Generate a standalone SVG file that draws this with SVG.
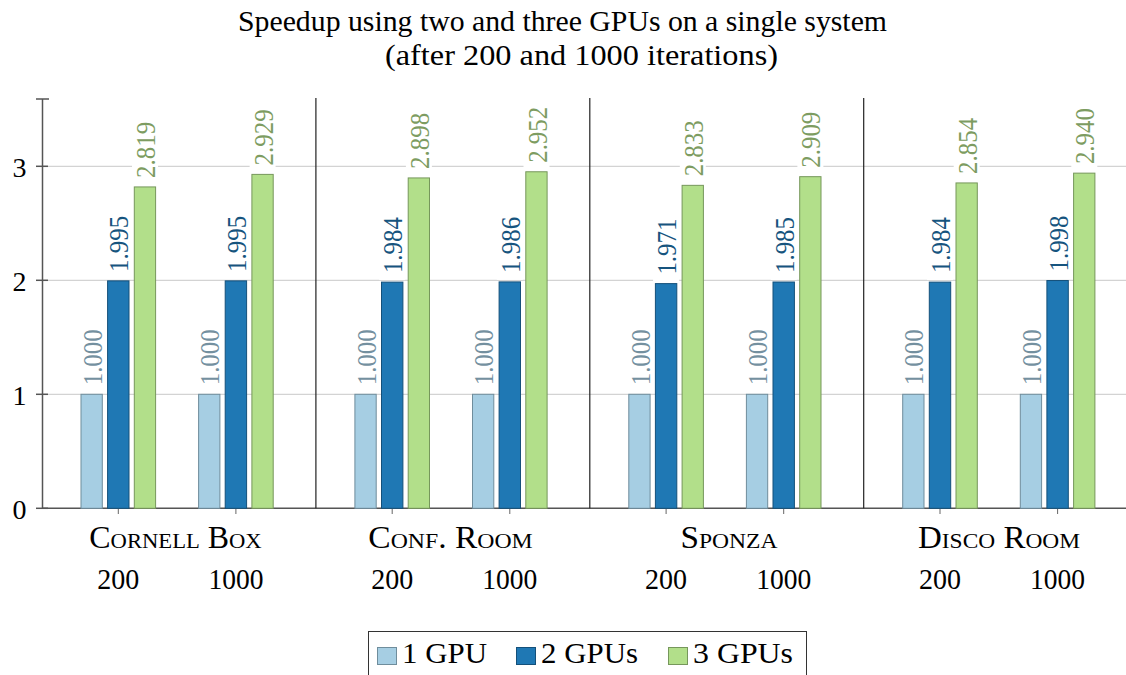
<svg xmlns="http://www.w3.org/2000/svg" width="1126" height="675" viewBox="0 0 1126 675">
<style>
text{font-family:"Liberation Serif","Times New Roman",serif;fill:#000}
.title{font-size:29px}
.tick{font-size:28px}
.cat{font-size:31px;font-variant:small-caps}
.num{font-size:30px}
.leg{font-size:30px}
.val{font-size:28px}
.grid{stroke:#c8c8c8;stroke-width:1}
.axis{stroke:#555;stroke-width:1.5;fill:none}
.sep{stroke:#222;stroke-width:1.2}
.g1{fill:#a6cee3;stroke:#6f8d9c;stroke-width:1}
.g2{fill:#1f78b4;stroke:#14507a;stroke-width:1}
.g3{fill:#b2df8a;stroke:#76975b;stroke-width:1}
.v1{fill:#74909f}
.v2{fill:#16547e}
.v3{fill:#7d9c61}
.bg{fill:#fff}
</style>
<rect width="1126" height="675" fill="#fff"/>
<g id="title">
<text class="title" x="238" y="31" textLength="649" lengthAdjust="spacingAndGlyphs">Speedup using two and three GPUs on a single system</text>
<text class="title" x="385" y="65" textLength="393" lengthAdjust="spacingAndGlyphs">(after 200 and 1000 iterations)</text>
</g>
<g id="grid">
<line class="grid" x1="42" y1="394.3" x2="1126" y2="394.3"/>
<line class="grid" x1="42" y1="280.3" x2="1126" y2="280.3"/>
<line class="grid" x1="42" y1="166.3" x2="1126" y2="166.3"/>
</g>
<g id="axes">
<line class="axis" x1="42.5" y1="99" x2="42.5" y2="508.3"/>
<line class="axis" x1="42" y1="508.3" x2="1126" y2="508.3"/>
<line class="axis" x1="36" y1="99" x2="49" y2="99"/>
<line class="axis" x1="36" y1="508.3" x2="48" y2="508.3"/>
<line class="axis" x1="36" y1="394.3" x2="48" y2="394.3"/>
<line class="axis" x1="36" y1="280.3" x2="48" y2="280.3"/>
<line class="axis" x1="36" y1="166.3" x2="48" y2="166.3"/>
<line class="sep" x1="315.9" y1="98" x2="315.9" y2="508.3"/>
<line class="sep" x1="589.8" y1="98" x2="589.8" y2="508.3"/>
<line class="sep" x1="863.7" y1="98" x2="863.7" y2="508.3"/>
<g stroke="#666" stroke-width="1">
<line x1="118.3" y1="508" x2="118.3" y2="514"/>
<line x1="235.9" y1="508" x2="235.9" y2="514"/>
<line x1="392.2" y1="508" x2="392.2" y2="514"/>
<line x1="509.8" y1="508" x2="509.8" y2="514"/>
<line x1="666.1" y1="508" x2="666.1" y2="514"/>
<line x1="783.7" y1="508" x2="783.7" y2="514"/>
<line x1="940" y1="508" x2="940" y2="514"/>
<line x1="1057.6" y1="508" x2="1057.6" y2="514"/>
</g>
<text class="tick" x="26.5" y="519" text-anchor="end">0</text>
<text class="tick" x="26.5" y="405" text-anchor="end">1</text>
<text class="tick" x="26.5" y="291" text-anchor="end">2</text>
<text class="tick" x="26.5" y="177" text-anchor="end">3</text>
</g>
<g id="bars">
<rect class="g1" x="81" y="394.3" width="21.3" height="114"/>
<rect class="g2" x="107.6" y="280.87" width="21.4" height="227.43"/>
<rect class="g3" x="134.3" y="186.93" width="21.3" height="321.37"/>
<rect class="g1" x="198.6" y="394.3" width="21.3" height="114"/>
<rect class="g2" x="225.2" y="280.87" width="21.4" height="227.43"/>
<rect class="g3" x="251.9" y="174.39" width="21.3" height="333.91"/>
<rect class="g1" x="354.9" y="394.3" width="21.3" height="114"/>
<rect class="g2" x="381.5" y="282.12" width="21.4" height="226.18"/>
<rect class="g3" x="408.2" y="177.93" width="21.3" height="330.37"/>
<rect class="g1" x="472.5" y="394.3" width="21.3" height="114"/>
<rect class="g2" x="499.1" y="281.9" width="21.4" height="226.4"/>
<rect class="g3" x="525.8" y="171.77" width="21.3" height="336.53"/>
<rect class="g1" x="628.8" y="394.3" width="21.3" height="114"/>
<rect class="g2" x="655.4" y="283.61" width="21.4" height="224.69"/>
<rect class="g3" x="682.1" y="185.34" width="21.3" height="322.96"/>
<rect class="g1" x="746.4" y="394.3" width="21.3" height="114"/>
<rect class="g2" x="773" y="282.01" width="21.4" height="226.29"/>
<rect class="g3" x="799.7" y="176.67" width="21.3" height="331.63"/>
<rect class="g1" x="902.7" y="394.3" width="21.3" height="114"/>
<rect class="g2" x="929.3" y="282.12" width="21.4" height="226.18"/>
<rect class="g3" x="956" y="182.94" width="21.3" height="325.36"/>
<rect class="g1" x="1020.3" y="394.3" width="21.3" height="114"/>
<rect class="g2" x="1046.9" y="280.53" width="21.4" height="227.77"/>
<rect class="g3" x="1073.6" y="173.14" width="21.3" height="335.16"/>
</g>
<g id="values">
<rect class="bg" x="78.6" y="325.3" width="26" height="67"/>
<text class="val v1" transform="translate(101.7 385.3) rotate(-90)" textLength="56" lengthAdjust="spacingAndGlyphs">1.000</text>
<rect class="bg" x="105.3" y="211.9" width="26" height="67"/>
<text class="val v2" transform="translate(128.3 271.9) rotate(-90)" textLength="56" lengthAdjust="spacingAndGlyphs">1.995</text>
<rect class="bg" x="132" y="117.9" width="26" height="67"/>
<text class="val v3" transform="translate(155 177.9) rotate(-90)" textLength="56" lengthAdjust="spacingAndGlyphs">2.819</text>
<rect class="bg" x="196.2" y="325.3" width="26" height="67"/>
<text class="val v1" transform="translate(219.3 385.3) rotate(-90)" textLength="56" lengthAdjust="spacingAndGlyphs">1.000</text>
<rect class="bg" x="222.9" y="211.9" width="26" height="67"/>
<text class="val v2" transform="translate(245.9 271.9) rotate(-90)" textLength="56" lengthAdjust="spacingAndGlyphs">1.995</text>
<rect class="bg" x="249.6" y="105.4" width="26" height="67"/>
<text class="val v3" transform="translate(272.6 165.4) rotate(-90)" textLength="56" lengthAdjust="spacingAndGlyphs">2.929</text>
<rect class="bg" x="352.5" y="325.3" width="26" height="67"/>
<text class="val v1" transform="translate(375.6 385.3) rotate(-90)" textLength="56" lengthAdjust="spacingAndGlyphs">1.000</text>
<rect class="bg" x="379.2" y="213.1" width="26" height="67"/>
<text class="val v2" transform="translate(402.2 273.1) rotate(-90)" textLength="56" lengthAdjust="spacingAndGlyphs">1.984</text>
<rect class="bg" x="405.9" y="108.9" width="26" height="67"/>
<text class="val v3" transform="translate(428.9 168.9) rotate(-90)" textLength="56" lengthAdjust="spacingAndGlyphs">2.898</text>
<rect class="bg" x="470.1" y="325.3" width="26" height="67"/>
<text class="val v1" transform="translate(493.2 385.3) rotate(-90)" textLength="56" lengthAdjust="spacingAndGlyphs">1.000</text>
<rect class="bg" x="496.8" y="212.9" width="26" height="67"/>
<text class="val v2" transform="translate(519.8 272.9) rotate(-90)" textLength="56" lengthAdjust="spacingAndGlyphs">1.986</text>
<rect class="bg" x="523.5" y="102.8" width="26" height="67"/>
<text class="val v3" transform="translate(546.5 162.8) rotate(-90)" textLength="56" lengthAdjust="spacingAndGlyphs">2.952</text>
<rect class="bg" x="626.4" y="325.3" width="26" height="67"/>
<text class="val v1" transform="translate(649.5 385.3) rotate(-90)" textLength="56" lengthAdjust="spacingAndGlyphs">1.000</text>
<rect class="bg" x="653.1" y="214.6" width="26" height="67"/>
<text class="val v2" transform="translate(676.1 274.6) rotate(-90)" textLength="56" lengthAdjust="spacingAndGlyphs">1.971</text>
<rect class="bg" x="679.8" y="116.3" width="26" height="67"/>
<text class="val v3" transform="translate(702.8 176.3) rotate(-90)" textLength="56" lengthAdjust="spacingAndGlyphs">2.833</text>
<rect class="bg" x="744" y="325.3" width="26" height="67"/>
<text class="val v1" transform="translate(767.1 385.3) rotate(-90)" textLength="56" lengthAdjust="spacingAndGlyphs">1.000</text>
<rect class="bg" x="770.7" y="213" width="26" height="67"/>
<text class="val v2" transform="translate(793.7 273) rotate(-90)" textLength="56" lengthAdjust="spacingAndGlyphs">1.985</text>
<rect class="bg" x="797.4" y="107.7" width="26" height="67"/>
<text class="val v3" transform="translate(820.4 167.7) rotate(-90)" textLength="56" lengthAdjust="spacingAndGlyphs">2.909</text>
<rect class="bg" x="900.3" y="325.3" width="26" height="67"/>
<text class="val v1" transform="translate(923.4 385.3) rotate(-90)" textLength="56" lengthAdjust="spacingAndGlyphs">1.000</text>
<rect class="bg" x="927" y="213.1" width="26" height="67"/>
<text class="val v2" transform="translate(950 273.1) rotate(-90)" textLength="56" lengthAdjust="spacingAndGlyphs">1.984</text>
<rect class="bg" x="953.7" y="113.9" width="26" height="67"/>
<text class="val v3" transform="translate(976.7 173.9) rotate(-90)" textLength="56" lengthAdjust="spacingAndGlyphs">2.854</text>
<rect class="bg" x="1017.9" y="325.3" width="26" height="67"/>
<text class="val v1" transform="translate(1041 385.3) rotate(-90)" textLength="56" lengthAdjust="spacingAndGlyphs">1.000</text>
<rect class="bg" x="1044.6" y="211.5" width="26" height="67"/>
<text class="val v2" transform="translate(1067.6 271.5) rotate(-90)" textLength="56" lengthAdjust="spacingAndGlyphs">1.998</text>
<rect class="bg" x="1071.3" y="104.1" width="26" height="67"/>
<text class="val v3" transform="translate(1094.3 164.1) rotate(-90)" textLength="56" lengthAdjust="spacingAndGlyphs">2.940</text>
</g>
<g id="categories">
<text class="cat" x="89.3" y="548.3" textLength="172.4" lengthAdjust="spacingAndGlyphs">Cornell Box</text>
<text class="cat" x="368.3" y="548.3" textLength="164.4" lengthAdjust="spacingAndGlyphs">Conf. Room</text>
<text class="cat" x="680.5" y="548.3" textLength="97" lengthAdjust="spacingAndGlyphs">Sponza</text>
<text class="cat" x="918" y="548.3" textLength="162" lengthAdjust="spacingAndGlyphs">Disco Room</text>
<text class="num" x="118.3" y="589.3" text-anchor="middle" textLength="42" lengthAdjust="spacingAndGlyphs">200</text>
<text class="num" x="235.9" y="589.3" text-anchor="middle" textLength="55" lengthAdjust="spacingAndGlyphs">1000</text>
<text class="num" x="392.2" y="589.3" text-anchor="middle" textLength="42" lengthAdjust="spacingAndGlyphs">200</text>
<text class="num" x="509.8" y="589.3" text-anchor="middle" textLength="55" lengthAdjust="spacingAndGlyphs">1000</text>
<text class="num" x="666.1" y="589.3" text-anchor="middle" textLength="42" lengthAdjust="spacingAndGlyphs">200</text>
<text class="num" x="783.7" y="589.3" text-anchor="middle" textLength="55" lengthAdjust="spacingAndGlyphs">1000</text>
<text class="num" x="940" y="589.3" text-anchor="middle" textLength="42" lengthAdjust="spacingAndGlyphs">200</text>
<text class="num" x="1057.6" y="589.3" text-anchor="middle" textLength="55" lengthAdjust="spacingAndGlyphs">1000</text>
</g>
<g id="legend">
<rect x="368.5" y="631.5" width="438" height="60" fill="#fff" stroke="#333" stroke-width="1"/>
<rect class="g1" x="377.5" y="647.5" width="19" height="17"/>
<text class="leg" x="402" y="663.3" textLength="85" lengthAdjust="spacingAndGlyphs">1 GPU</text>
<rect class="g2" x="516.5" y="647.5" width="19" height="17"/>
<text class="leg" x="541" y="663.3" textLength="97" lengthAdjust="spacingAndGlyphs">2 GPUs</text>
<rect class="g3" x="668.5" y="647.5" width="19" height="17"/>
<text class="leg" x="693" y="663.3" textLength="100" lengthAdjust="spacingAndGlyphs">3 GPUs</text>
</g>
</svg>
